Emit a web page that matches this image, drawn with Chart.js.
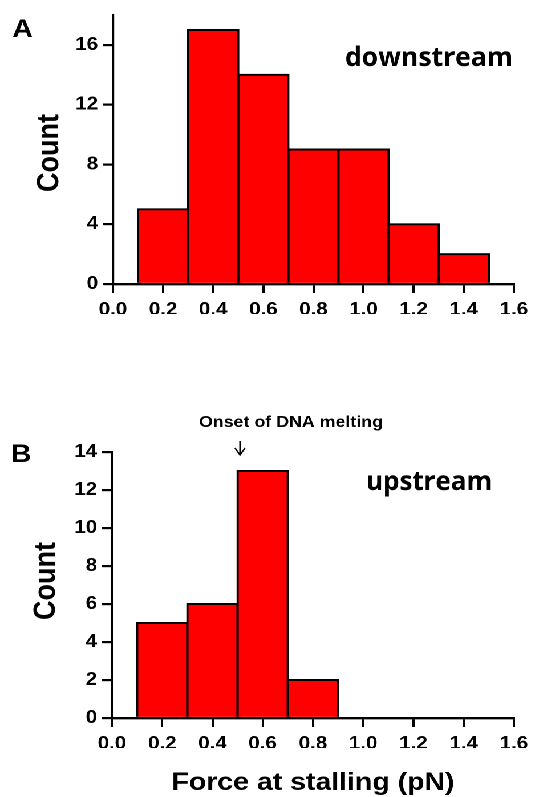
<!DOCTYPE html>
<html>
<head>
<meta charset="utf-8">
<script src="https://cdn.jsdelivr.net/npm/chart.js@4.4.1/dist/chart.umd.min.js"></script>
<style>
  html, body { margin: 0; padding: 0; background: #fff; }
  #wrap {
    position: absolute; left: 0; top: 0;
    width: 469px; height: 797px;
    transform: scaleX(1.1407); transform-origin: 0 0;
  }
  #wrap canvas { position: absolute; left: 0; top: 0; }
</style>
</head>
<body>
<div id="wrap">
  <canvas id="chartA" width="469" height="797"></canvas>
  <canvas id="chartB" width="469" height="797"></canvas>
</div>
<script>
// histogram data (bin centres, bin width 0.2 pN)
const binsA = [0.2, 0.4, 0.6, 0.8, 1.0, 1.2, 1.4];
const countsA = [5, 17, 14, 9, 9, 4, 2];
const binsB = [0.2, 0.4, 0.6, 0.8];
const countsB = [5, 6, 13, 2];

// axis ticks
const forceTicks = [0, 0.2, 0.4, 0.6, 0.8, 1.0, 1.2, 1.4, 1.6];
const countTicksA = [0, 4, 8, 12, 16];
const countTicksB = [0, 2, 4, 6, 8, 10, 12, 14];
const countMaxA = 18;
const countMaxB = 14;

// the figure is stretched horizontally, the canvas is drawn narrow and scaled by css
const W = 469;
const SX = 535 / W;
const H = 797;

const ARIAL = "'Liberation Sans', Arial, sans-serif";
const OPEN = "'Open Sans', sans-serif";
const tickFont = { family: ARIAL, size: 18, weight: 'bold' };

function toPoints(xs, ys) {
  return xs.map((x, i) => ({ x: x, y: ys[i] }));
}

function drawTexts(chart, items) {
  const ctx = chart.ctx;
  items.forEach(it => {
    ctx.save();
    ctx.fillStyle = '#000';
    ctx.font = 'bold ' + it.size + 'px ' + it.family;
    ctx.textAlign = 'center';
    ctx.textBaseline = 'alphabetic';
    ctx.translate(it.x / SX, it.y);
    if (it.rotate) ctx.rotate(it.rotate);
    if (it.width) ctx.scale(it.width / SX / ctx.measureText(it.text).width, 1);
    ctx.fillText(it.text, 0, 0);
    ctx.restore();
  });
}

const textsA = [
  { text: 'A', x: 22.5, y: 37, size: 25, family: ARIAL },
  { text: 'Count', x: 58, y: 153, size: 27, family: ARIAL, rotate: -Math.PI / 2 },
  { text: 'downstream', x: 429, y: 66, size: 27, family: OPEN, width: 168 }
];
const textsB = [
  { text: 'B', x: 21, y: 462, size: 25, family: ARIAL },
  { text: 'Count', x: 55, y: 581, size: 27, family: ARIAL, rotate: -Math.PI / 2 },
  { text: 'upstream', x: 429, y: 490, size: 27, family: OPEN, width: 126 },
  { text: 'Onset of DNA melting', x: 291, y: 427, size: 16, family: ARIAL, width: 184 },
  { text: 'Force at stalling (pN)', x: 313, y: 790, size: 25, family: ARIAL, width: 283 }
];

function makeConfig(bins, counts, yTicks, yMax, box, texts, extra) {
  return {
    type: 'bar',
    data: {
      datasets: [{
        data: toPoints(bins, counts),
        backgroundColor: '#ff0000',
        borderColor: '#000',
        borderWidth: 2,
        inflateAmount: 1,
        borderSkipped: 'start',
        barPercentage: 1.0,
        categoryPercentage: 1.0
      }]
    },
    options: {
      responsive: false,
      animation: false,
      devicePixelRatio: 2,
      events: [],
      layout: {
        padding: {
          left: box.left / SX - 45,
          right: W - box.right / SX,
          top: box.top,
          bottom: H - box.bottom - 30
        }
      },
      plugins: {
        legend: { display: false },
        tooltip: { enabled: false }
      },
      scales: {
        x: {
          type: 'linear',
          min: 0,
          max: 1.6,
          offset: false,
          afterBuildTicks: s => { s.ticks = forceTicks.map(v => ({ value: v })); },
          afterFit: s => { s.height = 30; },
          grid: { offset: false, drawOnChartArea: false, drawTicks: true, tickLength: 9, color: '#000', lineWidth: 2 },
          border: { display: true, color: '#000', width: 2.4 },
          ticks: { color: '#000', font: tickFont, padding: 6, maxRotation: 0, autoSkip: false,
                   callback: v => Number(v).toFixed(1) }
        },
        y: {
          min: 0,
          max: yMax,
          afterBuildTicks: s => { s.ticks = yTicks.map(v => ({ value: v })); },
          afterFit: s => { s.width = 45; },
          grid: { drawOnChartArea: false, drawTicks: true, tickLength: 9, color: '#000', lineWidth: 2.2 },
          border: { display: true, color: '#000', width: 2.1 },
          ticks: { color: '#000', font: tickFont, padding: 4, autoSkip: false }
        }
      }
    },
    plugins: [{
      id: 'labels',
      afterDraw: chart => {
        drawTexts(chart, texts);
        if (extra) extra(chart);
      }
    }]
  };
}

// small arrow under "Onset of DNA melting"
function drawArrow(chart) {
  const ctx = chart.ctx;
  const x = 240 / SX;
  ctx.save();
  ctx.strokeStyle = '#000';
  ctx.lineWidth = 1.3;
  ctx.beginPath();
  ctx.moveTo(x, 441);
  ctx.lineTo(x, 455);
  ctx.moveTo((240 - 5) / SX, 448);
  ctx.lineTo(x, 455);
  ctx.lineTo((240 + 5) / SX, 448);
  ctx.stroke();
  ctx.restore();
}

new Chart(document.getElementById('chartA'),
  makeConfig(binsA, countsA, countTicksA, countMaxA,
    { left: 113, right: 517, top: 15, bottom: 284 }, textsA, null));

new Chart(document.getElementById('chartB'),
  makeConfig(binsB, countsB, countTicksB, countMaxB,
    { left: 112, right: 516, top: 452, bottom: 718 }, textsB, drawArrow));
</script>
</body>
</html>
